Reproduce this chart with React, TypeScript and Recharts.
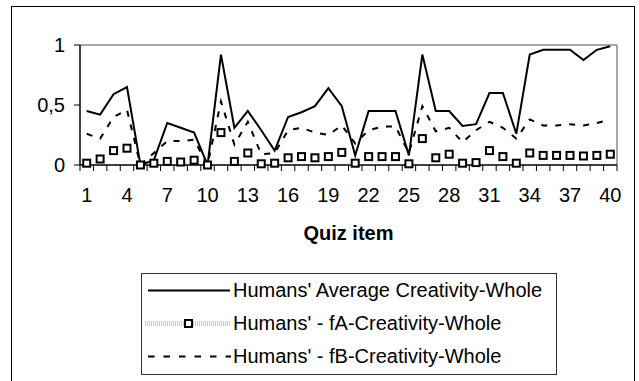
import { Line, LineChart, ReferenceLine, XAxis, YAxis } from "recharts";

const FONT = '"Liberation Sans", Arial, sans-serif';

const quizItems = [
  1, 2, 3, 4, 5, 6, 7, 8, 9, 10, 11, 12, 13, 14, 15, 16, 17, 18, 19, 20,
  21, 22, 23, 24, 25, 26, 27, 28, 29, 30, 31, 32, 33, 34, 35, 36, 37, 38, 39, 40,
];
const averageCreativity = [
  0.45, 0.42, 0.59, 0.65, 0, 0.04, 0.35, 0.31, 0.27, 0, 0.92, 0.31, 0.45, 0.29, 0.12, 0.4, 0.44, 0.49, 0.64, 0.49,
  0.08, 0.45, 0.45, 0.45, 0.08, 0.92, 0.45, 0.45, 0.325, 0.34, 0.6, 0.6, 0.26, 0.92, 0.96, 0.96, 0.96, 0.875, 0.96, 0.99,
];
const fACreativity = [
  0.015, 0.05, 0.12, 0.14, 0, 0.015, 0.03, 0.025, 0.04, 0, 0.27, 0.03, 0.1, 0.01, 0.015, 0.06, 0.07, 0.06, 0.07, 0.105,
  0.015, 0.07, 0.07, 0.07, 0.01, 0.22, 0.06, 0.09, 0.015, 0.02, 0.12, 0.07, 0.015, 0.1, 0.08, 0.08, 0.08, 0.075, 0.08, 0.09,
];
const fBCreativity = [
  0.26, 0.22, 0.4, 0.46, 0, 0.1, 0.2, 0.2, 0.21, 0, 0.53, 0.17, 0.36, 0.09, 0.1, 0.29, 0.31, 0.27, 0.25, 0.33,
  0.18, 0.29, 0.32, 0.32, 0.1, 0.49, 0.28, 0.31, 0.19, 0.29, 0.36, 0.31, 0.22, 0.38, 0.33, 0.33, 0.34, 0.33, 0.35, 0.38,
];
const xTickLabels = [1, 4, 7, 10, 13, 16, 19, 22, 25, 28, 31, 34, 37, 40];
const yTicks = [0, 0.5, 1];

const seriesNames = [
  "Humans' Average Creativity-Whole",
  "Humans' - fA-Creativity-Whole",
  "Humans' - fB-Creativity-Whole",
];

const rows = quizItems.map((item, i) => ({
  item,
  average: averageCreativity[i],
  fA: fACreativity[i],
  fB: fBCreativity[i],
}));

// category boundaries (Excel puts tick marks between items), plus the labelled items
const itemBoundaries = [...quizItems.map((item) => item - 0.5), quizItems[quizItems.length - 1] + 0.5];
const xDomain = [itemBoundaries[0], itemBoundaries[itemBoundaries.length - 1]];
const xTicks = [...itemBoundaries, ...xTickLabels].sort((a, b) => a - b);

const tickText = { fill: "#000", fontSize: 20, fontFamily: FONT };

function QuizTick(props: any) {
  const { x, y, payload } = props;
  const v = payload.value;
  if (Number.isInteger(v)) {
    return (
      <text x={x} y={y + 23} dy="0.71em" textAnchor="middle" fill="#000" fontSize={20} fontFamily={FONT}>
        {v}
      </text>
    );
  }
  return <line x1={x} x2={x} y1={y} y2={y + 6} stroke="#000" strokeWidth={1} />;
}

function SquareDot(props: any) {
  const { cx, cy, index } = props;
  if (cx == null || cy == null) return null;
  return (
    <rect key={index} x={cx - 3.5} y={cy - 3.5} width={7} height={7} fill="#fff" stroke="#000" strokeWidth={2} />
  );
}

function LegendSample({ kind }: { kind: number }) {
  return (
    <svg width={90} height={33} style={{ display: "block", flex: "none" }}>
      {kind === 0 && <line x1={6} x2={88} y1={16.5} y2={16.5} stroke="#000" strokeWidth={2} />}
      {kind === 1 && (
        <>
          <line x1={3} x2={89} y1={16.5} y2={16.5} stroke="#c8c8c8" strokeWidth={5} strokeDasharray="1 1" />
          <rect x={43} y={13} width={7} height={7} fill="#fff" stroke="#000" strokeWidth={2} />
        </>
      )}
      {kind === 2 && <line x1={6} x2={89} y1={16.5} y2={16.5} stroke="#000" strokeWidth={2} strokeDasharray="6.5 9" />}
    </svg>
  );
}

export default function App() {
  return (
    <div
      style={{
        position: "absolute",
        left: 0,
        top: 0,
        width: 639,
        height: 381,
        background: "#fff",
        overflow: "hidden",
        fontFamily: FONT,
      }}
    >
      <div
        style={{
          position: "absolute",
          left: 11,
          top: 6,
          width: 622,
          height: 420,
          border: "1.5px solid #000",
        }}
      />
      <div style={{ position: "absolute", left: 0, top: 0 }}>
        <LineChart width={639} height={381} data={rows} margin={{ top: 45, right: 22, left: 10, bottom: 176 }}>
          <XAxis
            type="number"
            dataKey="item"
            domain={xDomain}
            ticks={xTicks}
            interval={0}
            tick={QuizTick}
            tickLine={false}
            tickSize={0}
            tickMargin={0}
            axisLine={{ stroke: "#000", strokeWidth: 1.5 }}
            height={40}
          />
          <YAxis
            type="number"
            domain={[0, 1]}
            ticks={yTicks}
            interval={0}
            width={70}
            tickSize={6}
            tickMargin={9}
            tick={tickText}
            tickLine={{ stroke: "#000" }}
            axisLine={{ stroke: "#000", strokeWidth: 1.5 }}
            tickFormatter={(v: number) => String(v).replace(".", ",")}
          />
          <ReferenceLine y={1} stroke="#888" strokeWidth={1.5} />
          <ReferenceLine x={xDomain[1]} stroke="#888" strokeWidth={1.5} />
          <Line
            type="linear"
            dataKey="average"
            stroke="#000"
            strokeWidth={2}
            dot={false}
            isAnimationActive={false}
          />
          <Line
            type="linear"
            dataKey="fB"
            stroke="#000"
            strokeWidth={2}
            strokeDasharray="6 8"
            dot={false}
            isAnimationActive={false}
          />
          <Line
            type="linear"
            dataKey="fA"
            stroke="none"
            dot={SquareDot}
            activeDot={false}
            isAnimationActive={false}
          />
        </LineChart>
      </div>
      <div
        style={{
          position: "absolute",
          left: 80,
          width: 537,
          top: 223,
          lineHeight: "20px",
          textAlign: "center",
          fontSize: 20,
          fontWeight: "bold",
          color: "#000",
        }}
      >
        Quiz item
      </div>
      <div
        style={{
          position: "absolute",
          left: 141,
          top: 273,
          width: 414,
          height: 100,
          border: "1px solid #333",
          background: "#fff",
        }}
      >
        {seriesNames.map((name, i) => (
          <div key={name} style={{ display: "flex", alignItems: "center", height: 33 }}>
            <LegendSample kind={i} />
            <span style={{ fontSize: 20, lineHeight: "33px", color: "#000", whiteSpace: "nowrap", marginLeft: 1 }}>
              {name}
            </span>
          </div>
        ))}
      </div>
    </div>
  );
}
